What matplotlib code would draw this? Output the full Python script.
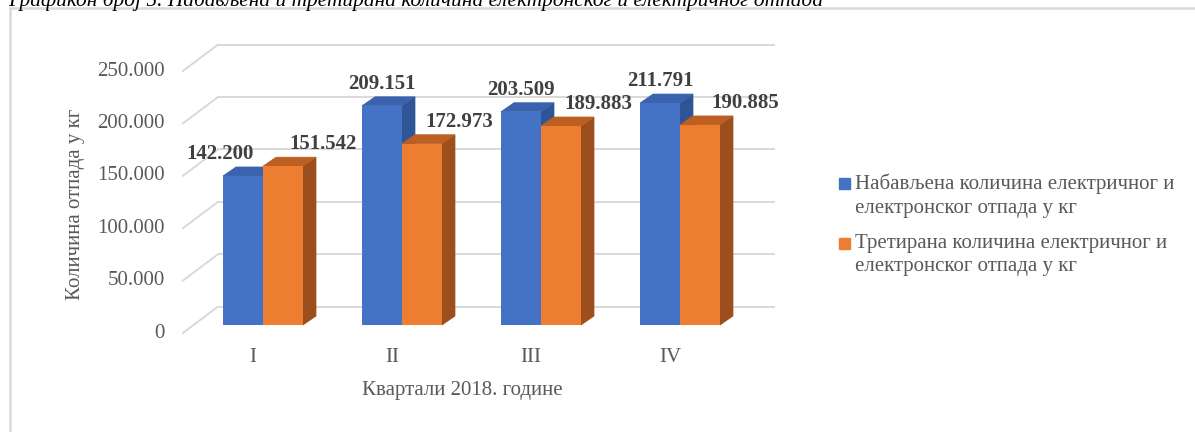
import matplotlib.pyplot as plt
from matplotlib.patches import Polygon, Rectangle
from matplotlib.lines import Line2D

# Values (kg per quarter of 2018)
quarters = ['I', 'II', 'III', 'IV']
procured = [142200, 209151, 203509, 211791]
treated = [151542, 172973, 189883, 190885]
seriesNames = ['Набављена количина електричног и\nелектронског отпада у кг',
               'Третирана количина електричног и\nелектронског отпада у кг']
yTicks = [0, 50000, 100000, 150000, 200000, 250000]

titleText = 'Графикон број 5. Набављена и третирана количина електронског и електричног отпада'
xTitle = 'Квартали 2018. године'
yTitle = 'Количина отпада у кг'

plt.rcParams['font.family'] = ['Liberation Serif', 'DejaVu Serif']

frontColors = ['#4472C4', '#ED7D31']
sideColors = ['#2F5597', '#9C4E1C']
topColors = ['#3A62AE', '#BC5F20']
gridColor = '#D9D9D9'
textColor = '#595959'

W, H = 1195, 432
fig = plt.figure(figsize=(W / 100, H / 100), dpi=100)

# plot area (pixels) = front face of the bars
left, bottom, width, height = 193.5, 325, 556, 262
ax = fig.add_axes([left / W, (H - bottom) / H, width / W, height / H])
ax.set_xlim(-0.5, len(quarters) - 0.5)
ax.set_ylim(0, yTicks[-1])
ax.set_axis_off()

# pixel -> data units
ux = len(quarters) / width
uy = yTicks[-1] / height

def fmt(v):
    return '{:,}'.format(v).replace(',', '.')

# 3D look: bar depth, back wall and front plane offsets (in pixels)
dX, dY = 13 * ux, 9 * uy
backX, backY = 24.4 * ux, 18.3 * uy
frontX, frontY = -10.6 * ux, -8 * uy
x0, x1 = -0.5, len(quarters) - 0.5

# grid on the back wall plus the slanted side wall lines, and y labels
for v in yTicks:
    ax.plot([x0 + backX, x1 + backX], [v + backY, v + backY], color=gridColor,
            lw=1.4, clip_on=False, zorder=1)
    ax.plot([x0 + frontX, x0 + backX], [v + frontY, v + backY], color=gridColor,
            lw=1.4, clip_on=False, zorder=1)
    ax.text(x0 - 28.5 * ux, v + frontY, fmt(v), ha='right', va='center',
            fontsize=15, color=textColor)

# bars: front face via ax.bar, side and top faces as polygons
barW = 40 * ux
labelDx = [[-23, 0, 0, 0], [40, 37, 37, 45]]
for s, values in enumerate([procured, treated]):
    xs = [i + (s - 0.5) * barW for i in range(len(quarters))]
    ax.bar(xs, values, width=barW, color=frontColors[s], zorder=3 + 2 * s)
    for i, (x, v) in enumerate(zip(xs, values)):
        xr = x + barW / 2
        xl = x - barW / 2
        ax.add_patch(Polygon([(xr, 0), (xr + dX, dY), (xr + dX, v + dY), (xr, v)],
                             closed=True, fc=sideColors[s], ec=sideColors[s], lw=0.5,
                             zorder=2 + 2 * s, clip_on=False))
        ax.add_patch(Polygon([(xl, v), (xl + dX, v + dY), (xr + dX, v + dY), (xr, v)],
                             closed=True, fc=topColors[s], ec=topColors[s], lw=0.5,
                             zorder=2 + 2 * s, clip_on=False))
        ax.annotate(fmt(v), (x, v), xytext=(labelDx[s][i] * 0.72, 22 * 0.72),
                    textcoords='offset points', ha='center', va='center',
                    fontsize=15, fontweight='bold', color='#404040', zorder=10)

# category labels
for i, q in enumerate(quarters):
    ax.text(i - 10 * ux, -33 * uy, q, ha='center', va='center', fontsize=15, color=textColor)

# axis titles
fig.text(462 / W, 1 - 390 / H, xTitle, ha='center', va='center', fontsize=15, color=textColor)
fig.text(75.5 / W, 1 - 204 / H, yTitle, ha='center', va='center', rotation=90,
         fontsize=15, color=textColor)

# legend drawn by hand so the square sits on the first line
legendTops = [174, 234]
for s in range(2):
    fig.add_artist(Rectangle((839 / W, 1 - (legendTops[s] + 15) / H), 11 / W, 11 / H,
                             transform=fig.transFigure, color=frontColors[s]))
    fig.text(855 / W, 1 - legendTops[s] / H, seriesNames[s], ha='left', va='top',
             fontsize=15, color=textColor, linespacing=1.3)

# caption cut off by the top edge (as in the source), and chart border
fig.text(8 / W, 1 - 6 / H, titleText, ha='left', va='baseline', fontsize=15.4,
         style='italic', color='black')
fig.add_artist(Line2D([9.7 / W, 1], [1 - 8.3 / H, 1 - 8.3 / H], transform=fig.transFigure,
                      color=gridColor, lw=1.8))
fig.add_artist(Line2D([9.7 / W, 9.7 / W], [0, 1 - 8.3 / H], transform=fig.transFigure,
                      color=gridColor, lw=1.8))

fig.savefig('out.png', dpi=100)
